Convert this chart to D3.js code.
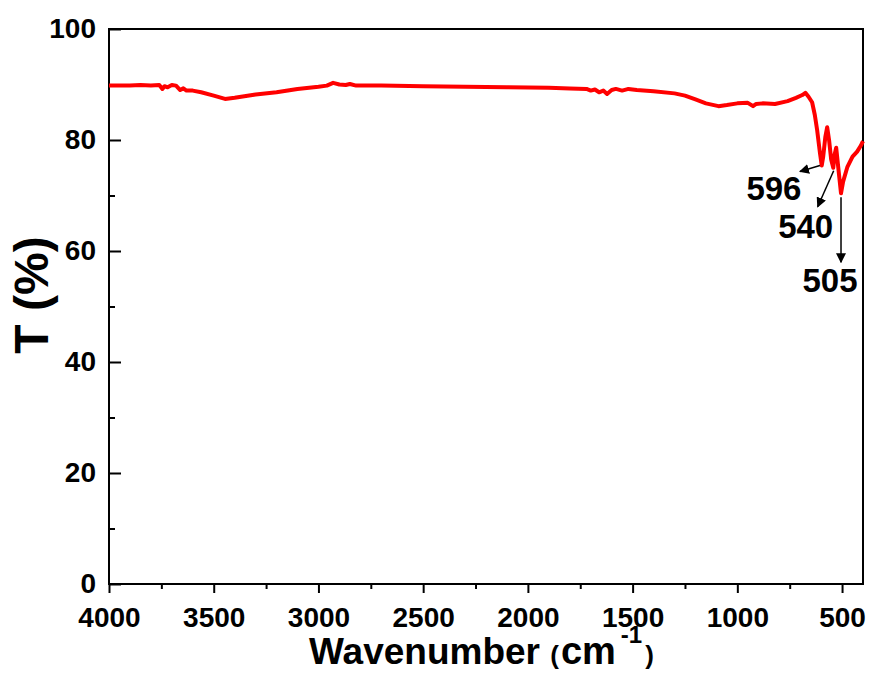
<!DOCTYPE html>
<html>
<head>
<meta charset="utf-8">
<script src="https://cdn.jsdelivr.net/npm/d3@7"></script>
<style>
  body { margin: 0; background: #fff; }
  text { font-family: "Liberation Sans", Arial, sans-serif; font-weight: bold; }
</style>
</head>
<body>
<div id="chart-area"></div>
<script>

// FTIR spectrum
var wavenumber = [4000, 3900, 3850, 3800, 3760, 3745, 3735, 3720, 3700, 3680, 3660, 3645, 3630, 3600,
    3560, 3500, 3446, 3400, 3300, 3200, 3100, 3000, 2960, 2930, 2900, 2870, 2850, 2820, 2700, 2500,
    2300, 2100, 1900, 1800, 1720, 1700, 1680, 1660, 1640, 1622, 1600, 1580, 1550, 1520, 1480, 1400,
    1300, 1250, 1200, 1150, 1090, 1050, 1000, 950, 925, 910, 880, 820, 760, 720, 690, 675, 660, 643,
    630, 619, 605, 597, 590, 580, 571, 562, 552, 542, 535, 528, 518, 505, 495, 475, 450, 428, 410, 400];
var transmittance = [89.8, 89.8, 89.9, 89.8, 89.9, 89.2, 89.7, 89.5, 89.9, 89.8, 89.0, 89.3, 88.9, 88.9,
    88.6, 88.0, 87.4, 87.6, 88.2, 88.6, 89.2, 89.6, 89.8, 90.3, 90.0, 89.9, 90.1, 89.8, 89.8, 89.7,
    89.6, 89.5, 89.4, 89.3, 89.2, 88.9, 89.1, 88.6, 88.9, 88.3, 89.0, 89.2, 88.9, 89.2, 89.0, 88.8,
    88.4, 88.0, 87.3, 86.6, 86.1, 86.3, 86.6, 86.7, 86.1, 86.5, 86.6, 86.5, 87.0, 87.6, 88.1, 88.5, 87.8, 86.8,
    84.5, 81.8, 77.5, 75.4, 77.0, 80.5, 82.3, 80.0, 76.5, 75.0, 77.5, 78.6, 75.0, 70.4, 72.5, 75.1, 77.0, 77.9, 79.0, 79.8];

var xTicks = [4000, 3500, 3000, 2500, 2000, 1500, 1000, 500];
var xMinorTicks = [3750, 3250, 2750, 2250, 1750, 1250, 750];
var yTicks = [0, 20, 40, 60, 80, 100];
var yMinorTicks = [10, 30, 50, 70, 90];

var peakLabels = ["596", "540", "505"];
var peakWavenumbers = [596, 540, 505];
var peakValues = [75.4, 75.0, 70.4];

var data = wavenumber.map(function(w, i) { return { w: w, t: transmittance[i] }; });

var margin = { top: 29, right: 7, bottom: 89, left: 109 },
    width = 870 - margin.left - margin.right,
    height = 673 - margin.top - margin.bottom;

var svg = d3.select("#chart-area")
    .append("svg")
    .attr("width", 870)
    .attr("height", 673)
    .append("g")
    .attr("transform", "translate(" + margin.left + "," + margin.top + ")");

var xScale = d3.scaleLinear().domain([4000, 400]).range([0, width]);
var yScale = d3.scaleLinear().domain([0, 100]).range([height, 0]);

// minor ticks first, then main axes
svg.append("g")
    .attr("transform", "translate(0," + height + ")")
    .call(d3.axisBottom(xScale).tickValues(xMinorTicks).tickSize(5).tickFormat(""))
    .call(function(g) { g.select(".domain").remove(); g.selectAll("line").attr("stroke-width", 2); });

svg.append("g")
    .call(d3.axisRight(yScale).tickValues(yMinorTicks).tickSize(6).tickFormat(""))
    .call(function(g) { g.select(".domain").remove(); g.selectAll("line").attr("stroke-width", 2); });

var xAxis = svg.append("g")
    .attr("transform", "translate(0," + height + ")")
    .call(d3.axisBottom(xScale).tickValues(xTicks).tickSize(9).tickFormat(d3.format("d")));
xAxis.select(".domain").remove();
xAxis.selectAll("line").attr("stroke-width", 2);
xAxis.selectAll("text")
    .attr("y", 43)
    .attr("dy", 0)
    .attr("font-size", "28px")
    .attr("font-family", "Liberation Sans, Arial, sans-serif")
    .attr("fill", "#000");

var yAxis = svg.append("g")
    .call(d3.axisRight(yScale).tickValues(yTicks).tickSize(12));
yAxis.select(".domain").remove();
yAxis.selectAll("line").attr("stroke-width", 2);
yAxis.selectAll("text")
    .attr("x", -13)
    .attr("text-anchor", "end")
    .attr("font-size", "28px")
    .attr("font-family", "Liberation Sans, Arial, sans-serif")
    .attr("fill", "#000");

// frame
svg.append("rect")
    .attr("width", width)
    .attr("height", height)
    .attr("fill", "none")
    .attr("stroke", "#000")
    .attr("stroke-width", 2);

var line = d3.line()
    .x(function(d) { return xScale(d.w); })
    .y(function(d) { return yScale(d.t); });

svg.append("path")
    .datum(data)
    .attr("fill", "none")
    .attr("stroke", "#f00")
    .attr("stroke-width", 4)
    .attr("stroke-linejoin", "round")
    .attr("d", line);

// peak annotations
svg.append("defs").append("marker")
    .attr("id", "arrow")
    .attr("viewBox", "0 0 10 10")
    .attr("refX", 9)
    .attr("refY", 5)
    .attr("markerWidth", 10)
    .attr("markerHeight", 10)
    .attr("markerUnits", "userSpaceOnUse")
    .attr("orient", "auto")
    .append("path")
    .attr("d", "M0,0 L10,5 L0,10 z")
    .attr("fill", "#000");

var arrowOffsets = [[-2, 0, -20, 6], [0, 3, -16, 36], [0, 4, 0, 65]];
var labelOffsets = [[-48, 34], [-28, 70], [-11, 99]];

peakLabels.forEach(function(label, i) {
    var px = xScale(peakWavenumbers[i]),
        py = yScale(peakValues[i]),
        a = arrowOffsets[i],
        l = labelOffsets[i];
    svg.append("line")
        .attr("x1", px + a[0])
        .attr("y1", py + a[1])
        .attr("x2", px + a[0] + a[2])
        .attr("y2", py + a[1] + a[3])
        .attr("stroke", "#000")
        .attr("stroke-width", 1.5)
        .attr("marker-end", "url(#arrow)");
    svg.append("text")
        .attr("x", px + l[0])
        .attr("y", py + l[1])
        .attr("text-anchor", "middle")
        .style("font-size", "33px")
        .text(label);
});

// axis titles
svg.append("text")
    .attr("transform", "translate(" + (48 - margin.left) + "," + (295 - margin.top) + ") rotate(-90)")
    .attr("text-anchor", "middle")
    .style("font-size", "48px")
    .text("T (%)");

var xTitle = svg.append("text")
    .attr("x", 309 - margin.left)
    .attr("y", 664 - margin.top)
    .attr("text-anchor", "start")
    .style("font-size", "37px");
xTitle.append("tspan").text("Wavenumber ");
xTitle.append("tspan").style("font-size", "26px").text("(");
xTitle.append("tspan").attr("dx", 2).style("font-size", "38px").text("cm");
xTitle.append("tspan").attr("dx", 5).attr("dy", -21).style("font-size", "24px").text("-1");
xTitle.append("tspan").attr("dx", 3).attr("dy", 21).style("font-size", "26px").text(")");

</script>
</body>
</html>
